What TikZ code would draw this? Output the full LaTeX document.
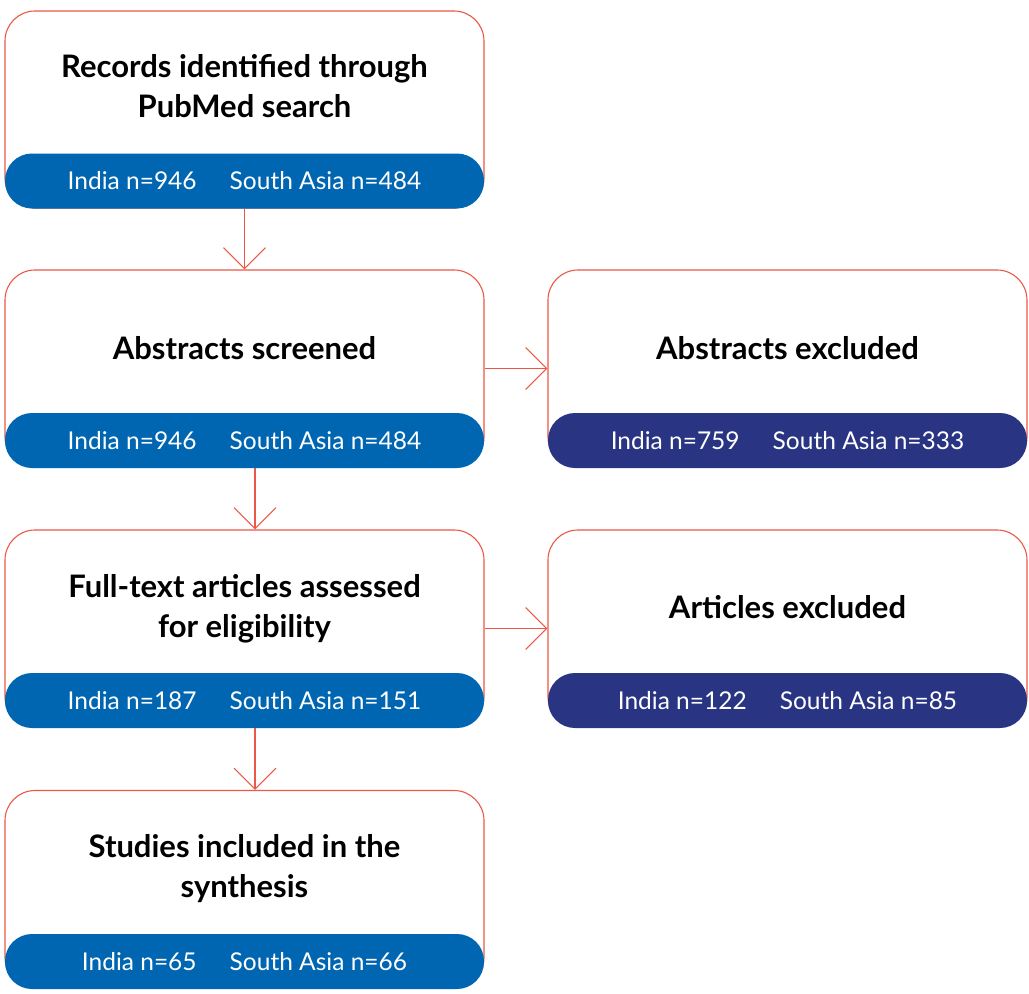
\documentclass[tikz,border=0pt]{standalone}
\usepackage{fontspec}
\setmainfont{Lato}
\usetikzlibrary{arrows.meta}
\definecolor{edge}{RGB}{236,88,72}
\definecolor{bandblue}{RGB}{0,102,178}
\definecolor{bandnavy}{RGB}{41,53,130}
\tikzset{
  box/.style={draw=edge, line width=1.1pt, rounded corners=30pt, minimum width=479pt, minimum height=197pt, inner sep=0pt, fill=white},
  band/.style={rounded corners=27pt, minimum width=479pt, minimum height=55pt, inner sep=0pt, text=white, font=\fontsize{24.5}{28}\selectfont},
  blueband/.style={band, fill=bandblue},
  navyband/.style={band, fill=bandnavy},
  head/.style={font=\bfseries\fontsize{31}{40}\selectfont, align=center, text=black, inner sep=0pt},
  arr/.style={draw=edge, line width=1.1pt, -{Straight Barb[length=21pt,width=42pt,line width=1.1pt]}}
}
\newcommand{\gapx}{\hspace{1.35em}}
\begin{document}
\begin{tikzpicture}[x=1pt,y=-1pt]
\useasboundingbox (0,0) rectangle (1029,994);
\fill[white] (0,0) rectangle (1029,994);
% left column
\node[box] (b1) at (244.5,109.5) {};
\node[blueband] (b1n) at (244.5,181) {India n=946\gapx South Asia n=484};
\node[head] (b1t) at (244.5,86) {Records identified through\\PubMed search};

\node[box] (b2) at (244.5,368.5) {};
\node[blueband] (b2n) at (244.5,440.5) {India n=946\gapx South Asia n=484};
\node[head] (b2t) at (244.5,348) {Abstracts screened};

\node[box] (b3) at (244.5,628.5) {};
\node[blueband] (b3n) at (244.5,700.5) {India n=187\gapx South Asia n=151};
\node[head] (b3t) at (244.5,609) {Full-text articles assessed\\for eligibility};

\node[box] (b4) at (244.5,889) {};
\node[blueband] (b4n) at (244.5,961.5) {India n=65\gapx South Asia n=66};
\node[head] (b4t) at (244.5,869) {Studies included in the\\synthesis};
% right column
\node[box] (e1) at (787.5,368.5) {};
\node[navyband] (e1n) at (787.5,440.5) {India n=759\gapx South Asia n=333};
\node[head] (e1t) at (787.5,348) {Abstracts excluded};

\node[box] (e2) at (787.5,628.5) {};
\node[navyband] (e2n) at (787.5,700.5) {India n=122\gapx South Asia n=85};
\node[head] (e2t) at (787.5,607) {Articles excluded};
% connectors
\draw[arr] (b1.south) -- (b2.north);
\draw[arr] ([xshift=10.5pt]b2.south) -- ([xshift=10.5pt]b3.north);
\draw[arr] ([xshift=10.5pt]b3.south) -- ([xshift=10.5pt]b4.north);
\draw[arr] (b2.east) -- (e1.west);
\draw[arr] (b3.east) -- (e2.west);
\end{tikzpicture}
\end{document}
